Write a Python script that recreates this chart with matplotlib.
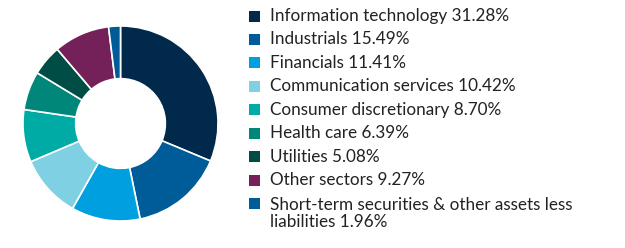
import matplotlib.pyplot as plt
from matplotlib.patches import Rectangle

# sector weights
sectors = ["Information technology", "Industrials", "Financials",
           "Communication services", "Consumer discretionary", "Health care",
           "Utilities", "Other sectors",
           "Short-term securities & other assets less\nliabilities"]
weights = [31.28, 15.49, 11.41, 10.42, 8.70, 6.39, 5.08, 9.27, 1.96]
colors = ["#00294b", "#005b99", "#009fdf", "#7fd0e3", "#00aba6",
          "#00877a", "#004d45", "#74215a", "#005b99"]

plt.rcParams['font.family'] = ['Lato', 'DejaVu Sans']

W, H = 625, 248
fig = plt.figure(figsize=(W / 100, H / 100), dpi=100)
ax = fig.add_axes([22 / W, 26 / H, 197 / W, 197 / H])

ax.pie(weights, colors=colors, startangle=90, counterclock=False,
       radius=1.0, wedgeprops=dict(width=0.54, edgecolor="white", linewidth=1.2))
ax.set_aspect("equal")
ax.set_xlim(-1.01, 1.01)
ax.set_ylim(-1.01, 1.01)

fs = 12.3
line_px = fs * 100 / 72 * 1.05

# legend drawn by hand so the square sits on the first line of a wrapped label
for i, (s, w, c) in enumerate(zip(sectors, weights, colors)):
    yc = 16 + 23.45 * i  # row centre, pixels from top
    fig.patches.append(Rectangle((249 / W, 1 - (yc + 5.5) / H), 11 / W, 11 / H,
                                 transform=fig.transFigure, facecolor=c,
                                 edgecolor="none"))
    extra = s.count("\n") * line_px  # baseline is taken from the last line
    fig.text(270 / W, 1 - (yc + 5 + extra) / H, f"{s} {w:.2f}%", fontsize=fs,
             color="#222222", va="baseline", ha="left", linespacing=1.05)

fig.savefig("out.png", dpi=100)
